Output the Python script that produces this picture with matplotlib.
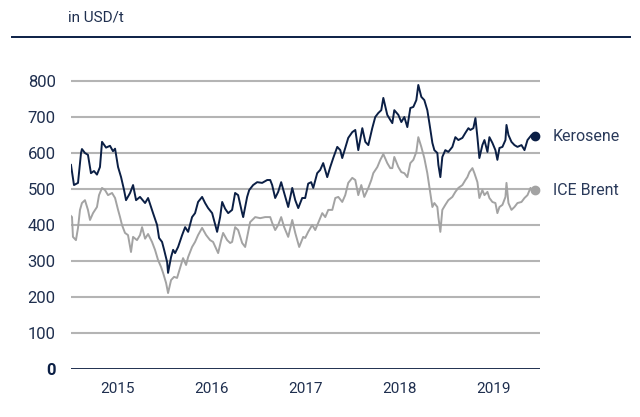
import matplotlib
matplotlib.use("Agg")
import matplotlib.pyplot as plt

plt.rcParams['font.family'] = ['Roboto', 'DejaVu Sans']

navy = '#0b1f45'
grey = '#a3a3a3'

# decimal years, USD/t
kero_t = [0.0, 0.032, 0.075, 0.107, 0.117, 0.149, 0.181, 0.213, 0.245, 0.277, 0.309,
          0.331, 0.374, 0.416, 0.448, 0.470, 0.502, 0.534, 0.566, 0.587, 0.630, 0.662,
          0.694, 0.736, 0.790, 0.822, 0.875, 0.918, 0.939, 0.971, 0.993, 1.025, 1.035,
          1.067, 1.089, 1.110, 1.142, 1.185, 1.217, 1.249, 1.291, 1.323, 1.355, 1.398,
          1.430, 1.462, 1.505, 1.558, 1.590, 1.612, 1.644, 1.676, 1.718, 1.750, 1.782,
          1.825, 1.836, 1.878, 1.900, 1.942, 1.985, 2.038, 2.092, 2.124, 2.145, 2.177,
          2.209, 2.241, 2.273, 2.316, 2.359, 2.391, 2.423, 2.465, 2.497, 2.529, 2.561,
          2.583, 2.625, 2.657, 2.689, 2.732, 2.764, 2.796, 2.839, 2.871, 2.892, 2.924,
          2.956, 2.999, 3.031, 3.063, 3.106, 3.138, 3.170, 3.212, 3.244, 3.276, 3.308,
          3.330, 3.372, 3.404, 3.426, 3.447, 3.490, 3.522, 3.554, 3.586, 3.618, 3.650,
          3.682, 3.703, 3.735, 3.767, 3.799, 3.821, 3.853, 3.874, 3.906, 3.917, 3.938,
          3.959, 3.991, 4.023, 4.066, 4.098, 4.130, 4.173, 4.205, 4.237, 4.258, 4.290,
          4.312, 4.333, 4.354, 4.386, 4.408, 4.440, 4.461, 4.493, 4.525, 4.546, 4.568,
          4.600, 4.632, 4.643, 4.664, 4.696, 4.728, 4.760, 4.803, 4.835, 4.867, 4.910,
          4.952]
kero_v = [567, 511, 517, 600, 611, 600, 595, 544, 550, 540, 561,
          631, 615, 620, 605, 612, 561, 533, 497, 469, 489, 511,
          469, 478, 461, 475, 433, 400, 364, 353, 331, 297, 267,
          311, 331, 322, 339, 372, 394, 381, 422, 433, 464, 478,
          461, 447, 433, 381, 422, 464, 445, 433, 442, 489, 483,
          433, 422, 478, 497, 511, 519, 517, 525, 525, 511, 475,
          492, 519, 489, 450, 503, 469, 447, 475, 475, 515, 519,
          503, 544, 553, 572, 533, 561, 586, 617, 608, 586, 614,
          642, 658, 664, 608, 669, 631, 622, 669, 700, 711, 719,
          753, 706, 692, 683, 719, 706, 686, 700, 672, 725, 728,
          747, 789, 756, 747, 719, 683, 628, 608, 600, 567, 533,
          589, 608, 603, 617, 644, 636, 642, 656, 669, 664, 669,
          697, 644, 586, 622, 636, 603, 644, 628, 608, 581, 614,
          617, 636, 678, 650, 631, 622, 617, 622, 608, 636, 650,
          647]

brent_t = [0.0, 0.011, 0.021, 0.053, 0.075, 0.096, 0.117, 0.149, 0.181, 0.203, 0.235,
           0.277, 0.299, 0.331, 0.363, 0.395, 0.438, 0.470, 0.502, 0.523, 0.544, 0.576,
           0.608, 0.640, 0.662, 0.704, 0.736, 0.758, 0.790, 0.822, 0.864, 0.896, 0.928,
           0.961, 0.982, 1.014, 1.035, 1.067, 1.099, 1.131, 1.163, 1.195, 1.227, 1.249,
           1.291, 1.323, 1.355, 1.398, 1.441, 1.483, 1.515, 1.569, 1.601, 1.622, 1.665,
           1.697, 1.718, 1.750, 1.782, 1.825, 1.857, 1.889, 1.910, 1.964, 2.017, 2.070,
           2.124, 2.145, 2.177, 2.209, 2.241, 2.273, 2.316, 2.359, 2.391, 2.433, 2.476,
           2.497, 2.529, 2.572, 2.604, 2.636, 2.679, 2.711, 2.743, 2.786, 2.818, 2.850,
           2.892, 2.924, 2.956, 2.999, 3.031, 3.063, 3.095, 3.127, 3.170, 3.202, 3.223,
           3.266, 3.298, 3.330, 3.372, 3.404, 3.426, 3.447, 3.490, 3.522, 3.554, 3.586,
           3.618, 3.650, 3.682, 3.703, 3.735, 3.767, 3.799, 3.821, 3.853, 3.874, 3.906,
           3.917, 3.938, 3.959, 3.991, 4.023, 4.066, 4.098, 4.130, 4.173, 4.205, 4.226,
           4.248, 4.280, 4.301, 4.333, 4.354, 4.386, 4.408, 4.440, 4.461, 4.493, 4.525,
           4.546, 4.568, 4.600, 4.632, 4.643, 4.664, 4.696, 4.728, 4.760, 4.803, 4.835,
           4.867, 4.899, 4.920, 4.952]
brent_v = [425, 422, 367, 358, 392, 442, 461, 469, 442, 414, 433,
           450, 483, 503, 497, 483, 489, 475, 442, 422, 400, 378,
           372, 325, 367, 358, 372, 394, 362, 375, 353, 331, 303,
           283, 267, 239, 211, 247, 256, 253, 281, 308, 289, 311,
           339, 353, 372, 392, 372, 358, 353, 322, 358, 378, 358,
           350, 353, 394, 386, 350, 339, 381, 408, 422, 419, 422,
           422, 406, 386, 400, 422, 394, 367, 414, 378, 339, 367,
           364, 381, 400, 386, 406, 433, 422, 442, 442, 475, 478,
           464, 483, 517, 531, 525, 483, 511, 478, 503, 525, 544,
           561, 581, 597, 572, 558, 558, 589, 561, 547, 544, 533,
           572, 581, 603, 644, 617, 586, 544, 506, 450, 461, 450,
           422, 381, 442, 456, 469, 478, 492, 503, 511, 525, 533,
           547, 558, 544, 519, 475, 497, 483, 492, 475, 464, 461,
           433, 450, 456, 478, 517, 461, 442, 450, 461, 464, 475,
           483, 503, 492, 497]

yticks = [0, 100, 200, 300, 400, 500, 600, 700, 800]
years = ['2015', '2016', '2017', '2018', '2019']

kero_x = [2015 + t for t in kero_t]
brent_x = [2015 + t for t in brent_t]

fig = plt.figure(figsize=(6.4, 4.17), dpi=100)
ax = fig.add_axes([0.1109, 0.1151, 0.7328, 0.7079])

for v in yticks[1:]:
    ax.axhline(v, color='#b4b4b4', lw=1.5, zorder=1)
ax.axhline(0, color='#1f3050', lw=1.4, zorder=1)

ax.plot(brent_x, brent_v, color=grey, lw=1.4, zorder=2)
ax.plot(kero_x, kero_v, color=navy, lw=1.4, zorder=3)
ax.plot(brent_x[-1], brent_v[-1], 'o', color=grey, ms=6, zorder=4, clip_on=False)
ax.plot(kero_x[-1], kero_v[-1], 'o', color=navy, ms=6, zorder=4, clip_on=False)

ax.set_xlim(2015, 2020)
ax.set_ylim(0, 820)
ax.set_yticks(yticks)
ax.set_yticklabels([str(v) for v in yticks], fontsize=12, color='#1f2f4f')
ax.get_yticklabels()[0].set_fontweight('bold')
ax.get_yticklabels()[0].set_color(navy)
ax.set_xticks([y + 0.5 for y in range(2015, 2020)])
ax.set_xticklabels(years, fontsize=11, color='#1f2f4f')
ax.tick_params(length=0)
ax.tick_params(axis='y', pad=11)
ax.tick_params(axis='x', pad=9)
for s in ax.spines.values():
    s.set_visible(False)

ax.text(1.027, kero_v[-1], 'Kerosene', transform=ax.get_yaxis_transform(),
        fontsize=11.5, color='#2a3a5a', va='center', ha='left')
ax.text(1.027, brent_v[-1], 'ICE Brent', transform=ax.get_yaxis_transform(),
        fontsize=11.5, color='#2a3a5a', va='center', ha='left')

fig.text(68 / 640, 1 - 18 / 417, 'in USD/t', fontsize=11, color='#1f2f4f',
         va='center', ha='left')
fig.add_artist(plt.Line2D([12 / 640, 630 / 640], [1 - 37 / 417, 1 - 37 / 417],
                          color=navy, lw=1.4))

fig.savefig('out.png', dpi=100)
